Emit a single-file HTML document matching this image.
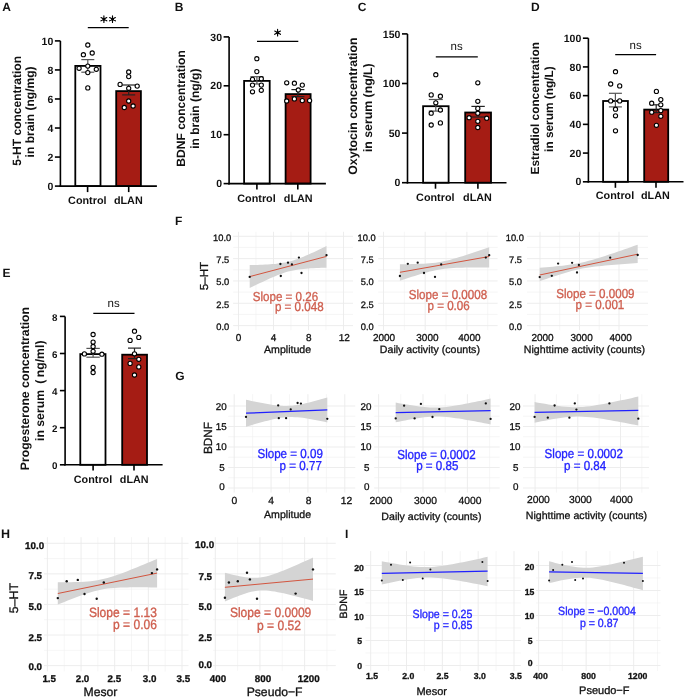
<!DOCTYPE html>
<html><head><meta charset="utf-8"><style>
html,body{margin:0;padding:0;background:#fff;}
body{width:685px;height:698px;overflow:hidden;font-family:"Liberation Sans",sans-serif;}
svg{display:block;will-change:transform;}
</style></head><body>
<svg width="685" height="698" viewBox="0 0 685 698" font-family="Liberation Sans, sans-serif" text-rendering="geometricPrecision">
<rect width="685" height="698" fill="#fff"/>
<line x1="60.4" y1="40.9" x2="60.4" y2="186.9" stroke="#000" stroke-width="1.6"/>
<line x1="54.9" y1="186.1" x2="60.4" y2="186.1" stroke="#000" stroke-width="1.6"/>
<text x="53.3" y="189.78" font-size="10.5" font-weight="bold" text-anchor="end" fill="#111">0</text>
<line x1="54.9" y1="157.06" x2="60.4" y2="157.06" stroke="#000" stroke-width="1.6"/>
<text x="53.3" y="160.74" font-size="10.5" font-weight="bold" text-anchor="end" fill="#111">2</text>
<line x1="54.9" y1="128.02" x2="60.4" y2="128.02" stroke="#000" stroke-width="1.6"/>
<text x="53.3" y="131.69" font-size="10.5" font-weight="bold" text-anchor="end" fill="#111">4</text>
<line x1="54.9" y1="98.98" x2="60.4" y2="98.98" stroke="#000" stroke-width="1.6"/>
<text x="53.3" y="102.65" font-size="10.5" font-weight="bold" text-anchor="end" fill="#111">6</text>
<line x1="54.9" y1="69.94" x2="60.4" y2="69.94" stroke="#000" stroke-width="1.6"/>
<text x="53.3" y="73.61" font-size="10.5" font-weight="bold" text-anchor="end" fill="#111">8</text>
<line x1="54.9" y1="40.9" x2="60.4" y2="40.9" stroke="#000" stroke-width="1.6"/>
<text x="53.3" y="44.58" font-size="10.5" font-weight="bold" text-anchor="end" fill="#111">10</text>
<rect x="75.3" y="65.9" width="25.2" height="120.2" fill="#fff" stroke="#000" stroke-width="1.8"/>
<rect x="116.2" y="91.1" width="24.7" height="95" fill="#a51c14" stroke="#000" stroke-width="1.8"/>
<line x1="59.6" y1="186.1" x2="156.9" y2="186.1" stroke="#000" stroke-width="1.6"/>
<line x1="87.6" y1="186.1" x2="87.6" y2="192.1" stroke="#000" stroke-width="1.6"/>
<line x1="128.7" y1="186.1" x2="128.7" y2="192.1" stroke="#000" stroke-width="1.6"/>
<line x1="87.8" y1="59.6" x2="87.8" y2="72.2" stroke="#555" stroke-width="1.2"/>
<line x1="81.3" y1="59.6" x2="94.3" y2="59.6" stroke="#555" stroke-width="1.2"/>
<line x1="81.3" y1="72.2" x2="94.3" y2="72.2" stroke="#555" stroke-width="1.2"/>
<line x1="128.7" y1="85" x2="128.7" y2="94.9" stroke="#222" stroke-width="1.2"/>
<line x1="122.2" y1="85" x2="135.2" y2="85" stroke="#222" stroke-width="1.2"/>
<line x1="122.2" y1="94.9" x2="135.2" y2="94.9" stroke="#222" stroke-width="1.2"/>
<circle cx="87.8" cy="45" r="2.1" fill="#fff" stroke="#000" stroke-width="1.1"/>
<circle cx="83.4" cy="54.7" r="2.1" fill="#fff" stroke="#000" stroke-width="1.1"/>
<circle cx="92.2" cy="53" r="2.1" fill="#fff" stroke="#000" stroke-width="1.1"/>
<circle cx="87.8" cy="66.1" r="2.1" fill="#fff" stroke="#000" stroke-width="1.1"/>
<circle cx="79.1" cy="68.3" r="2.1" fill="#fff" stroke="#000" stroke-width="1.1"/>
<circle cx="96.3" cy="69.3" r="2.1" fill="#fff" stroke="#000" stroke-width="1.1"/>
<circle cx="87.8" cy="72.6" r="2.1" fill="#fff" stroke="#000" stroke-width="1.1"/>
<circle cx="87.8" cy="87.9" r="2.1" fill="#fff" stroke="#000" stroke-width="1.1"/>
<circle cx="128.7" cy="72" r="2.1" fill="#fff" stroke="#000" stroke-width="1.1"/>
<circle cx="128.7" cy="76.6" r="2.1" fill="#fff" stroke="#000" stroke-width="1.1"/>
<circle cx="120.1" cy="84.4" r="2.1" fill="#fff" stroke="#000" stroke-width="1.1"/>
<circle cx="137.2" cy="86.1" r="2.1" fill="#fff" stroke="#000" stroke-width="1.1"/>
<circle cx="128.7" cy="88.3" r="2.1" fill="#fff" stroke="#000" stroke-width="1.1"/>
<circle cx="128.7" cy="101" r="2.1" fill="#fff" stroke="#000" stroke-width="1.1"/>
<circle cx="124.3" cy="107.5" r="2.1" fill="#fff" stroke="#000" stroke-width="1.1"/>
<circle cx="133.1" cy="106" r="2.1" fill="#fff" stroke="#000" stroke-width="1.1"/>
<line x1="87.8" y1="27.7" x2="128.7" y2="27.7" stroke="#000" stroke-width="1.3"/>
<path d="M103.9 15.9L103.9 22.5M101.04 17.55L106.76 20.85M106.76 17.55L101.04 20.85" stroke="#000" stroke-width="1.15" stroke-linecap="round" fill="none"/>
<circle cx="103.9" cy="19.2" r="1.5" fill="#000"/>
<path d="M112.5 15.9L112.5 22.5M109.64 17.55L115.36 20.85M115.36 17.55L109.64 20.85" stroke="#000" stroke-width="1.15" stroke-linecap="round" fill="none"/>
<circle cx="112.5" cy="19.2" r="1.5" fill="#000"/>
<text x="87.3" y="204" font-size="10.8" font-weight="bold" text-anchor="middle" fill="#111">Control</text>
<text x="128.3" y="204" font-size="10.8" font-weight="bold" text-anchor="middle" fill="#111">dLAN</text>
<text x="20.7" y="110.8" font-size="12.05" font-weight="bold" text-anchor="middle" fill="#111" transform="rotate(-90 20.7 110.8)">5-HT concentration</text>
<text x="34.4" y="111.9" font-size="12.05" font-weight="bold" text-anchor="middle" fill="#111" transform="rotate(-90 34.4 111.9)">in brain (ng/mg)</text>
<text x="2.3" y="11.1" font-size="12" font-weight="bold" text-anchor="start" fill="#111">A</text>
<line x1="229.1" y1="36.9" x2="229.1" y2="184.4" stroke="#000" stroke-width="1.6"/>
<line x1="223.6" y1="183.6" x2="229.1" y2="183.6" stroke="#000" stroke-width="1.6"/>
<text x="222" y="187.28" font-size="10.5" font-weight="bold" text-anchor="end" fill="#111">0</text>
<line x1="223.6" y1="134.7" x2="229.1" y2="134.7" stroke="#000" stroke-width="1.6"/>
<text x="222" y="138.38" font-size="10.5" font-weight="bold" text-anchor="end" fill="#111">10</text>
<line x1="223.6" y1="85.8" x2="229.1" y2="85.8" stroke="#000" stroke-width="1.6"/>
<text x="222" y="89.47" font-size="10.5" font-weight="bold" text-anchor="end" fill="#111">20</text>
<line x1="223.6" y1="36.9" x2="229.1" y2="36.9" stroke="#000" stroke-width="1.6"/>
<text x="222" y="40.58" font-size="10.5" font-weight="bold" text-anchor="end" fill="#111">30</text>
<rect x="244.1" y="80.9" width="25.6" height="102.7" fill="#fff" stroke="#000" stroke-width="1.8"/>
<rect x="285.6" y="94.1" width="25" height="89.5" fill="#a51c14" stroke="#000" stroke-width="1.8"/>
<line x1="228.3" y1="183.6" x2="325.9" y2="183.6" stroke="#000" stroke-width="1.6"/>
<line x1="256.9" y1="183.6" x2="256.9" y2="189.6" stroke="#000" stroke-width="1.6"/>
<line x1="297.8" y1="183.6" x2="297.8" y2="189.6" stroke="#000" stroke-width="1.6"/>
<line x1="256.9" y1="76.7" x2="256.9" y2="84" stroke="#555" stroke-width="1.2"/>
<line x1="250.4" y1="76.7" x2="263.4" y2="76.7" stroke="#555" stroke-width="1.2"/>
<line x1="250.4" y1="84" x2="263.4" y2="84" stroke="#555" stroke-width="1.2"/>
<line x1="297.9" y1="89.6" x2="297.9" y2="96.6" stroke="#222" stroke-width="1.2"/>
<line x1="291.4" y1="89.6" x2="304.4" y2="89.6" stroke="#222" stroke-width="1.2"/>
<line x1="291.4" y1="96.6" x2="304.4" y2="96.6" stroke="#222" stroke-width="1.2"/>
<circle cx="256.8" cy="58.7" r="2.1" fill="#fff" stroke="#000" stroke-width="1.1"/>
<circle cx="256.8" cy="71.6" r="2.1" fill="#fff" stroke="#000" stroke-width="1.1"/>
<circle cx="252.5" cy="79.3" r="2.1" fill="#fff" stroke="#000" stroke-width="1.1"/>
<circle cx="261.3" cy="78.7" r="2.1" fill="#fff" stroke="#000" stroke-width="1.1"/>
<circle cx="252.5" cy="85.1" r="2.1" fill="#fff" stroke="#000" stroke-width="1.1"/>
<circle cx="261.3" cy="85.1" r="2.1" fill="#fff" stroke="#000" stroke-width="1.1"/>
<circle cx="252.5" cy="91.8" r="2.1" fill="#fff" stroke="#000" stroke-width="1.1"/>
<circle cx="261.3" cy="90.3" r="2.1" fill="#fff" stroke="#000" stroke-width="1.1"/>
<circle cx="286.7" cy="82.8" r="2.1" fill="#fff" stroke="#000" stroke-width="1.1"/>
<circle cx="294.4" cy="83.2" r="2.1" fill="#fff" stroke="#000" stroke-width="1.1"/>
<circle cx="302.3" cy="85.1" r="2.1" fill="#fff" stroke="#000" stroke-width="1.1"/>
<circle cx="298.3" cy="90" r="2.1" fill="#fff" stroke="#000" stroke-width="1.1"/>
<circle cx="286.7" cy="101" r="2.1" fill="#fff" stroke="#000" stroke-width="1.1"/>
<circle cx="294.4" cy="98.9" r="2.1" fill="#fff" stroke="#000" stroke-width="1.1"/>
<circle cx="302.3" cy="100.6" r="2.1" fill="#fff" stroke="#000" stroke-width="1.1"/>
<circle cx="309.6" cy="100.6" r="2.1" fill="#fff" stroke="#000" stroke-width="1.1"/>
<line x1="257" y1="41.3" x2="298.3" y2="41.3" stroke="#000" stroke-width="1.3"/>
<path d="M277.6 29.4L277.6 36M274.74 31.05L280.46 34.35M280.46 31.05L274.74 34.35" stroke="#000" stroke-width="1.15" stroke-linecap="round" fill="none"/>
<circle cx="277.6" cy="32.7" r="1.5" fill="#000"/>
<text x="256.5" y="201.8" font-size="10.8" font-weight="bold" text-anchor="middle" fill="#111">Control</text>
<text x="298.2" y="201.8" font-size="10.8" font-weight="bold" text-anchor="middle" fill="#111">dLAN</text>
<text x="185" y="108.4" font-size="12.05" font-weight="bold" text-anchor="middle" fill="#111" transform="rotate(-90 185 108.4)">BDNF concentration</text>
<text x="198.9" y="108.7" font-size="12.05" font-weight="bold" text-anchor="middle" fill="#111" transform="rotate(-90 198.9 108.7)">in brain (ng/g)</text>
<text x="174.8" y="11.1" font-size="12" font-weight="bold" text-anchor="start" fill="#111">B</text>
<line x1="407.5" y1="33.9" x2="407.5" y2="183.5" stroke="#000" stroke-width="1.6"/>
<line x1="402" y1="182.7" x2="407.5" y2="182.7" stroke="#000" stroke-width="1.6"/>
<text x="400.4" y="186.38" font-size="10.5" font-weight="bold" text-anchor="end" fill="#111">0</text>
<line x1="402" y1="133.1" x2="407.5" y2="133.1" stroke="#000" stroke-width="1.6"/>
<text x="400.4" y="136.78" font-size="10.5" font-weight="bold" text-anchor="end" fill="#111">50</text>
<line x1="402" y1="83.5" x2="407.5" y2="83.5" stroke="#000" stroke-width="1.6"/>
<text x="400.4" y="87.17" font-size="10.5" font-weight="bold" text-anchor="end" fill="#111">100</text>
<line x1="402" y1="33.9" x2="407.5" y2="33.9" stroke="#000" stroke-width="1.6"/>
<text x="400.4" y="37.57" font-size="10.5" font-weight="bold" text-anchor="end" fill="#111">150</text>
<rect x="423.1" y="106.2" width="25.5" height="76.5" fill="#fff" stroke="#000" stroke-width="1.8"/>
<rect x="465.2" y="112.5" width="25.8" height="70.2" fill="#a51c14" stroke="#000" stroke-width="1.8"/>
<line x1="406.7" y1="182.7" x2="506.5" y2="182.7" stroke="#000" stroke-width="1.6"/>
<line x1="435.5" y1="182.7" x2="435.5" y2="188.7" stroke="#000" stroke-width="1.6"/>
<line x1="477.9" y1="182.7" x2="477.9" y2="188.7" stroke="#000" stroke-width="1.6"/>
<line x1="435.8" y1="99.5" x2="435.8" y2="111.1" stroke="#555" stroke-width="1.2"/>
<line x1="428.8" y1="99.5" x2="442.8" y2="99.5" stroke="#555" stroke-width="1.2"/>
<line x1="428.8" y1="111.1" x2="442.8" y2="111.1" stroke="#555" stroke-width="1.2"/>
<line x1="478.1" y1="106.4" x2="478.1" y2="117" stroke="#222" stroke-width="1.2"/>
<line x1="471.4" y1="106.4" x2="484.8" y2="106.4" stroke="#222" stroke-width="1.2"/>
<line x1="471.4" y1="117" x2="484.8" y2="117" stroke="#222" stroke-width="1.2"/>
<circle cx="435.8" cy="74.7" r="2.1" fill="#fff" stroke="#000" stroke-width="1.1"/>
<circle cx="431.2" cy="94.9" r="2.1" fill="#fff" stroke="#000" stroke-width="1.1"/>
<circle cx="440.4" cy="96.2" r="2.1" fill="#fff" stroke="#000" stroke-width="1.1"/>
<circle cx="435.8" cy="102.8" r="2.1" fill="#fff" stroke="#000" stroke-width="1.1"/>
<circle cx="440.4" cy="110" r="2.1" fill="#fff" stroke="#000" stroke-width="1.1"/>
<circle cx="431.2" cy="113.2" r="2.1" fill="#fff" stroke="#000" stroke-width="1.1"/>
<circle cx="440.4" cy="122.9" r="2.1" fill="#fff" stroke="#000" stroke-width="1.1"/>
<circle cx="431.2" cy="125" r="2.1" fill="#fff" stroke="#000" stroke-width="1.1"/>
<circle cx="477.8" cy="82.8" r="2.1" fill="#fff" stroke="#000" stroke-width="1.1"/>
<circle cx="477.8" cy="101.3" r="2.1" fill="#fff" stroke="#000" stroke-width="1.1"/>
<circle cx="477.8" cy="108.4" r="2.1" fill="#fff" stroke="#000" stroke-width="1.1"/>
<circle cx="477.8" cy="113.2" r="2.1" fill="#fff" stroke="#000" stroke-width="1.1"/>
<circle cx="469.1" cy="117.7" r="2.1" fill="#fff" stroke="#000" stroke-width="1.1"/>
<circle cx="486.7" cy="118.2" r="2.1" fill="#fff" stroke="#000" stroke-width="1.1"/>
<circle cx="477.8" cy="121.3" r="2.1" fill="#fff" stroke="#000" stroke-width="1.1"/>
<circle cx="477.8" cy="127.5" r="2.1" fill="#fff" stroke="#000" stroke-width="1.1"/>
<line x1="435.8" y1="56.8" x2="477.8" y2="56.8" stroke="#000" stroke-width="1.3"/>
<text x="456.6" y="50.2" font-size="11.5" font-weight="normal" text-anchor="middle" fill="#111">ns</text>
<text x="435.3" y="200.7" font-size="10.8" font-weight="bold" text-anchor="middle" fill="#111">Control</text>
<text x="477.5" y="200.7" font-size="10.8" font-weight="bold" text-anchor="middle" fill="#111">dLAN</text>
<text x="357.3" y="106.1" font-size="12.3" font-weight="bold" text-anchor="middle" fill="#111" transform="rotate(-90 357.3 106.1)">Oxytocin concentration</text>
<text x="371.7" y="107.7" font-size="12.3" font-weight="bold" text-anchor="middle" fill="#111" transform="rotate(-90 371.7 107.7)">in serum (ng/L)</text>
<text x="357.7" y="11.1" font-size="12" font-weight="bold" text-anchor="start" fill="#111">C</text>
<line x1="588.4" y1="38.2" x2="588.4" y2="182.6" stroke="#000" stroke-width="1.6"/>
<line x1="582.9" y1="181.8" x2="588.4" y2="181.8" stroke="#000" stroke-width="1.6"/>
<text x="581.3" y="185.48" font-size="10.5" font-weight="bold" text-anchor="end" fill="#111">0</text>
<line x1="582.9" y1="153.08" x2="588.4" y2="153.08" stroke="#000" stroke-width="1.6"/>
<text x="581.3" y="156.76" font-size="10.5" font-weight="bold" text-anchor="end" fill="#111">20</text>
<line x1="582.9" y1="124.36" x2="588.4" y2="124.36" stroke="#000" stroke-width="1.6"/>
<text x="581.3" y="128.04" font-size="10.5" font-weight="bold" text-anchor="end" fill="#111">40</text>
<line x1="582.9" y1="95.64" x2="588.4" y2="95.64" stroke="#000" stroke-width="1.6"/>
<text x="581.3" y="99.32" font-size="10.5" font-weight="bold" text-anchor="end" fill="#111">60</text>
<line x1="582.9" y1="66.92" x2="588.4" y2="66.92" stroke="#000" stroke-width="1.6"/>
<text x="581.3" y="70.6" font-size="10.5" font-weight="bold" text-anchor="end" fill="#111">80</text>
<line x1="582.9" y1="38.2" x2="588.4" y2="38.2" stroke="#000" stroke-width="1.6"/>
<text x="581.3" y="41.88" font-size="10.5" font-weight="bold" text-anchor="end" fill="#111">100</text>
<rect x="603.1" y="101" width="24.8" height="80.8" fill="#fff" stroke="#000" stroke-width="1.8"/>
<rect x="644.2" y="109.6" width="24" height="72.2" fill="#a51c14" stroke="#000" stroke-width="1.8"/>
<line x1="587.6" y1="181.8" x2="683.5" y2="181.8" stroke="#000" stroke-width="1.6"/>
<line x1="615.4" y1="181.8" x2="615.4" y2="187.8" stroke="#000" stroke-width="1.6"/>
<line x1="656" y1="181.8" x2="656" y2="187.8" stroke="#000" stroke-width="1.6"/>
<line x1="615.4" y1="93.3" x2="615.4" y2="106.9" stroke="#555" stroke-width="1.2"/>
<line x1="608.9" y1="93.3" x2="621.9" y2="93.3" stroke="#555" stroke-width="1.2"/>
<line x1="608.9" y1="106.9" x2="621.9" y2="106.9" stroke="#555" stroke-width="1.2"/>
<line x1="656.2" y1="104.8" x2="656.2" y2="112.6" stroke="#222" stroke-width="1.2"/>
<line x1="649.7" y1="104.8" x2="662.7" y2="104.8" stroke="#222" stroke-width="1.2"/>
<line x1="649.7" y1="112.6" x2="662.7" y2="112.6" stroke="#222" stroke-width="1.2"/>
<circle cx="615.5" cy="71.7" r="2.1" fill="#fff" stroke="#000" stroke-width="1.1"/>
<circle cx="610.7" cy="84" r="2.1" fill="#fff" stroke="#000" stroke-width="1.1"/>
<circle cx="619.7" cy="85.9" r="2.1" fill="#fff" stroke="#000" stroke-width="1.1"/>
<circle cx="610.7" cy="100.9" r="2.1" fill="#fff" stroke="#000" stroke-width="1.1"/>
<circle cx="619.7" cy="100.9" r="2.1" fill="#fff" stroke="#000" stroke-width="1.1"/>
<circle cx="615.5" cy="109.2" r="2.1" fill="#fff" stroke="#000" stroke-width="1.1"/>
<circle cx="615.5" cy="115.8" r="2.1" fill="#fff" stroke="#000" stroke-width="1.1"/>
<circle cx="615.5" cy="130.8" r="2.1" fill="#fff" stroke="#000" stroke-width="1.1"/>
<circle cx="656.4" cy="91.4" r="2.1" fill="#fff" stroke="#000" stroke-width="1.1"/>
<circle cx="660.8" cy="99.6" r="2.1" fill="#fff" stroke="#000" stroke-width="1.1"/>
<circle cx="651.7" cy="103.2" r="2.1" fill="#fff" stroke="#000" stroke-width="1.1"/>
<circle cx="660.8" cy="104.8" r="2.1" fill="#fff" stroke="#000" stroke-width="1.1"/>
<circle cx="660.8" cy="110.6" r="2.1" fill="#fff" stroke="#000" stroke-width="1.1"/>
<circle cx="651.7" cy="112.2" r="2.1" fill="#fff" stroke="#000" stroke-width="1.1"/>
<circle cx="660.8" cy="116.3" r="2.1" fill="#fff" stroke="#000" stroke-width="1.1"/>
<circle cx="656.4" cy="125.3" r="2.1" fill="#fff" stroke="#000" stroke-width="1.1"/>
<line x1="615.2" y1="54.7" x2="656.1" y2="54.7" stroke="#000" stroke-width="1.3"/>
<text x="635.6" y="48.6" font-size="11.5" font-weight="normal" text-anchor="middle" fill="#111">ns</text>
<text x="615" y="198.9" font-size="10.8" font-weight="bold" text-anchor="middle" fill="#111">Control</text>
<text x="655.4" y="198.9" font-size="10.8" font-weight="bold" text-anchor="middle" fill="#111">dLAN</text>
<text x="538.7" y="108.25" font-size="11.85" font-weight="bold" text-anchor="middle" fill="#111" transform="rotate(-90 538.7 108.25)">Estradiol concentration</text>
<text x="552.7" y="109.1" font-size="11.85" font-weight="bold" text-anchor="middle" fill="#111" transform="rotate(-90 552.7 109.1)">in serum (ng/L)</text>
<text x="530.9" y="11.1" font-size="12" font-weight="bold" text-anchor="start" fill="#111">D</text>
<line x1="65.1" y1="316.4" x2="65.1" y2="465.6" stroke="#000" stroke-width="1.6"/>
<line x1="59.9" y1="464.8" x2="65.1" y2="464.8" stroke="#000" stroke-width="1.6"/>
<text x="57.4" y="469.03" font-size="9.8" font-weight="bold" text-anchor="end" fill="#111">0</text>
<line x1="59.9" y1="427.7" x2="65.1" y2="427.7" stroke="#000" stroke-width="1.6"/>
<text x="57.4" y="431.93" font-size="9.8" font-weight="bold" text-anchor="end" fill="#111">2</text>
<line x1="59.9" y1="390.6" x2="65.1" y2="390.6" stroke="#000" stroke-width="1.6"/>
<text x="57.4" y="394.83" font-size="9.8" font-weight="bold" text-anchor="end" fill="#111">4</text>
<line x1="59.9" y1="353.5" x2="65.1" y2="353.5" stroke="#000" stroke-width="1.6"/>
<text x="57.4" y="357.73" font-size="9.8" font-weight="bold" text-anchor="end" fill="#111">6</text>
<line x1="59.9" y1="316.4" x2="65.1" y2="316.4" stroke="#000" stroke-width="1.6"/>
<text x="57.4" y="320.63" font-size="9.8" font-weight="bold" text-anchor="end" fill="#111">8</text>
<rect x="80.3" y="354.1" width="25.2" height="110.7" fill="#fff" stroke="#000" stroke-width="1.8"/>
<rect x="122.2" y="354.7" width="24.8" height="110.1" fill="#a51c14" stroke="#000" stroke-width="1.8"/>
<line x1="64.3" y1="464.8" x2="162.6" y2="464.8" stroke="#000" stroke-width="1.6"/>
<line x1="93.1" y1="464.8" x2="93.1" y2="470.5" stroke="#000" stroke-width="1.6"/>
<line x1="134" y1="464.8" x2="134" y2="470.5" stroke="#000" stroke-width="1.6"/>
<line x1="93.1" y1="348.4" x2="93.1" y2="357.2" stroke="#555" stroke-width="1.2"/>
<line x1="86.4" y1="348.4" x2="99.8" y2="348.4" stroke="#555" stroke-width="1.2"/>
<line x1="86.4" y1="357.2" x2="99.8" y2="357.2" stroke="#555" stroke-width="1.2"/>
<line x1="134.5" y1="348.1" x2="134.5" y2="358.6" stroke="#222" stroke-width="1.2"/>
<line x1="128" y1="348.1" x2="141" y2="348.1" stroke="#222" stroke-width="1.2"/>
<line x1="128" y1="358.6" x2="141" y2="358.6" stroke="#222" stroke-width="1.2"/>
<circle cx="93.1" cy="334.5" r="2.1" fill="#fff" stroke="#000" stroke-width="1.1"/>
<circle cx="93.1" cy="342.1" r="2.1" fill="#fff" stroke="#000" stroke-width="1.1"/>
<circle cx="93.1" cy="346.5" r="2.1" fill="#fff" stroke="#000" stroke-width="1.1"/>
<circle cx="93.1" cy="351.3" r="2.1" fill="#fff" stroke="#000" stroke-width="1.1"/>
<circle cx="84.4" cy="353.9" r="2.1" fill="#fff" stroke="#000" stroke-width="1.1"/>
<circle cx="101.9" cy="354.2" r="2.1" fill="#fff" stroke="#000" stroke-width="1.1"/>
<circle cx="93.1" cy="367.4" r="2.1" fill="#fff" stroke="#000" stroke-width="1.1"/>
<circle cx="93.1" cy="372.5" r="2.1" fill="#fff" stroke="#000" stroke-width="1.1"/>
<circle cx="134.5" cy="331.2" r="2.1" fill="#fff" stroke="#000" stroke-width="1.1"/>
<circle cx="138.8" cy="337.4" r="2.1" fill="#fff" stroke="#000" stroke-width="1.1"/>
<circle cx="130.1" cy="340.4" r="2.1" fill="#fff" stroke="#000" stroke-width="1.1"/>
<circle cx="134.5" cy="353.8" r="2.1" fill="#fff" stroke="#000" stroke-width="1.1"/>
<circle cx="138.8" cy="359.3" r="2.1" fill="#fff" stroke="#000" stroke-width="1.1"/>
<circle cx="130.1" cy="363.4" r="2.1" fill="#fff" stroke="#000" stroke-width="1.1"/>
<circle cx="138.8" cy="366.9" r="2.1" fill="#fff" stroke="#000" stroke-width="1.1"/>
<circle cx="134.5" cy="375" r="2.1" fill="#fff" stroke="#000" stroke-width="1.1"/>
<line x1="93.3" y1="313.4" x2="134.5" y2="313.4" stroke="#000" stroke-width="1.3"/>
<text x="113.7" y="306.9" font-size="11.5" font-weight="normal" text-anchor="middle" fill="#111">ns</text>
<text x="93" y="483" font-size="10.8" font-weight="bold" text-anchor="middle" fill="#111">Control</text>
<text x="134.2" y="483" font-size="10.8" font-weight="bold" text-anchor="middle" fill="#111">dLAN</text>
<text x="29" y="388.6" font-size="12.25" font-weight="bold" text-anchor="middle" fill="#111" transform="rotate(-90 29 388.6)">Progesterone concentration</text>
<text x="43.5" y="390.75" font-size="12.25" font-weight="bold" text-anchor="middle" fill="#111" transform="rotate(-90 43.5 390.75)">in serum ( ng/ml)</text>
<text x="2.6" y="276.7" font-size="12" font-weight="bold" text-anchor="start" fill="#111">E</text>
<line x1="256" y1="231.8" x2="256" y2="330.1" stroke="#f0f0f0" stroke-width="0.6"/>
<line x1="291" y1="231.8" x2="291" y2="330.1" stroke="#f0f0f0" stroke-width="0.6"/>
<line x1="326" y1="231.8" x2="326" y2="330.1" stroke="#f0f0f0" stroke-width="0.6"/>
<line x1="233.1" y1="314.44" x2="353" y2="314.44" stroke="#f0f0f0" stroke-width="0.6"/>
<line x1="233.1" y1="292.11" x2="353" y2="292.11" stroke="#f0f0f0" stroke-width="0.6"/>
<line x1="233.1" y1="269.79" x2="353" y2="269.79" stroke="#f0f0f0" stroke-width="0.6"/>
<line x1="233.1" y1="247.46" x2="353" y2="247.46" stroke="#f0f0f0" stroke-width="0.6"/>
<line x1="238.5" y1="231.8" x2="238.5" y2="330.1" stroke="#ebebeb" stroke-width="0.9"/>
<line x1="273.5" y1="231.8" x2="273.5" y2="330.1" stroke="#ebebeb" stroke-width="0.9"/>
<line x1="308.5" y1="231.8" x2="308.5" y2="330.1" stroke="#ebebeb" stroke-width="0.9"/>
<line x1="343.5" y1="231.8" x2="343.5" y2="330.1" stroke="#ebebeb" stroke-width="0.9"/>
<line x1="233.1" y1="325.6" x2="353" y2="325.6" stroke="#ebebeb" stroke-width="0.9"/>
<line x1="233.1" y1="303.28" x2="353" y2="303.28" stroke="#ebebeb" stroke-width="0.9"/>
<line x1="233.1" y1="280.95" x2="353" y2="280.95" stroke="#ebebeb" stroke-width="0.9"/>
<line x1="233.1" y1="258.62" x2="353" y2="258.62" stroke="#ebebeb" stroke-width="0.9"/>
<line x1="233.1" y1="236.3" x2="353" y2="236.3" stroke="#ebebeb" stroke-width="0.9"/>
<polygon points="249.7,265.1 252.26,265.04 254.82,264.98 257.38,264.91 259.94,264.82 262.5,264.72 265.06,264.61 267.62,264.47 270.18,264.31 272.74,264.11 275.3,263.88 277.86,263.61 280.42,263.27 282.98,262.87 285.54,262.39 288.1,261.83 290.66,261.17 293.22,260.43 295.78,259.6 298.34,258.69 300.9,257.71 303.46,256.67 306.02,255.59 308.58,254.47 311.14,253.32 313.7,252.14 316.26,250.94 318.82,249.73 321.38,248.49 323.94,247.25 326.5,246 326.5,267.7 323.94,267.76 321.38,267.84 318.82,267.92 316.26,268.03 313.7,268.14 311.14,268.28 308.58,268.45 306.02,268.64 303.46,268.88 300.9,269.16 298.34,269.5 295.78,269.9 293.22,270.39 290.66,270.96 288.1,271.62 285.54,272.37 282.98,273.21 280.42,274.13 277.86,275.11 275.3,276.15 272.74,277.24 270.18,278.36 267.62,279.51 265.06,280.69 262.5,281.89 259.94,283.11 257.38,284.34 254.82,285.59 252.26,286.84 249.7,288.1" fill="#d4d4d4" fill-opacity="1"/>
<line x1="249.7" y1="276.6" x2="326.5" y2="256.4" stroke="#d2553f" stroke-width="1"/>
<circle cx="249.7" cy="276.9" r="1.15" fill="#111"/>
<circle cx="280.4" cy="264" r="1.15" fill="#111"/>
<circle cx="288" cy="262.7" r="1.15" fill="#111"/>
<circle cx="291.9" cy="264.4" r="1.15" fill="#111"/>
<circle cx="298.9" cy="257.6" r="1.15" fill="#111"/>
<circle cx="280.8" cy="276" r="1.15" fill="#111"/>
<circle cx="301.5" cy="273" r="1.15" fill="#111"/>
<circle cx="326.5" cy="255.2" r="1.15" fill="#111"/>
<text x="231.2" y="240.85" font-size="9.3" font-weight="normal" text-anchor="end" fill="#111" stroke="#111" stroke-width="0.3">10.0</text>
<text x="229.29" y="263.15" font-size="9.3" font-weight="normal" text-anchor="end" fill="#111" stroke="#111" stroke-width="0.3">7.5</text>
<text x="229.29" y="285.45" font-size="9.3" font-weight="normal" text-anchor="end" fill="#111" stroke="#111" stroke-width="0.3">5.0</text>
<text x="229.29" y="307.75" font-size="9.3" font-weight="normal" text-anchor="end" fill="#111" stroke="#111" stroke-width="0.3">2.5</text>
<text x="229.29" y="330.06" font-size="9.3" font-weight="normal" text-anchor="end" fill="#111" stroke="#111" stroke-width="0.3">0.0</text>
<text x="238.5" y="340.5" font-size="10" font-weight="normal" text-anchor="middle" fill="#111" stroke="#111" stroke-width="0.3">0</text>
<text x="273.5" y="340.5" font-size="10" font-weight="normal" text-anchor="middle" fill="#111" stroke="#111" stroke-width="0.3">4</text>
<text x="308.7" y="340.5" font-size="10" font-weight="normal" text-anchor="middle" fill="#111" stroke="#111" stroke-width="0.3">8</text>
<text x="344.3" y="340.5" font-size="10" font-weight="normal" text-anchor="middle" fill="#111" stroke="#111" stroke-width="0.3">12</text>
<text x="287.6" y="352.51" font-size="10.6" font-weight="normal" text-anchor="middle" fill="#111" stroke="#111" stroke-width="0.3">Amplitude</text>
<text x="208.06" y="276" font-size="11.6" font-weight="normal" text-anchor="middle" fill="#111" transform="rotate(-90 208.06 276)" stroke="#111" stroke-width="0.3">5–HT</text>
<text x="0" y="0" font-size="11.6" font-weight="normal" text-anchor="start" fill="#cf5f4f" transform="translate(252.7 300.5) scale(1 1.12)" stroke="#cf5f4f" stroke-width="0.3">Slope = 0.26</text>
<text x="0" y="0" font-size="11.6" font-weight="normal" text-anchor="start" fill="#cf5f4f" transform="translate(274.9 311.1) scale(1 1.12)" stroke="#cf5f4f" stroke-width="0.3">p = 0.048</text>
<line x1="404.35" y1="231.8" x2="404.35" y2="330.1" stroke="#f0f0f0" stroke-width="0.6"/>
<line x1="446.05" y1="231.8" x2="446.05" y2="330.1" stroke="#f0f0f0" stroke-width="0.6"/>
<line x1="487.75" y1="231.8" x2="487.75" y2="330.1" stroke="#f0f0f0" stroke-width="0.6"/>
<line x1="378.2" y1="314.44" x2="497.6" y2="314.44" stroke="#f0f0f0" stroke-width="0.6"/>
<line x1="378.2" y1="292.11" x2="497.6" y2="292.11" stroke="#f0f0f0" stroke-width="0.6"/>
<line x1="378.2" y1="269.79" x2="497.6" y2="269.79" stroke="#f0f0f0" stroke-width="0.6"/>
<line x1="378.2" y1="247.46" x2="497.6" y2="247.46" stroke="#f0f0f0" stroke-width="0.6"/>
<line x1="383.5" y1="231.8" x2="383.5" y2="330.1" stroke="#ebebeb" stroke-width="0.9"/>
<line x1="425.2" y1="231.8" x2="425.2" y2="330.1" stroke="#ebebeb" stroke-width="0.9"/>
<line x1="466.9" y1="231.8" x2="466.9" y2="330.1" stroke="#ebebeb" stroke-width="0.9"/>
<line x1="378.2" y1="325.6" x2="497.6" y2="325.6" stroke="#ebebeb" stroke-width="0.9"/>
<line x1="378.2" y1="303.28" x2="497.6" y2="303.28" stroke="#ebebeb" stroke-width="0.9"/>
<line x1="378.2" y1="280.95" x2="497.6" y2="280.95" stroke="#ebebeb" stroke-width="0.9"/>
<line x1="378.2" y1="258.62" x2="497.6" y2="258.62" stroke="#ebebeb" stroke-width="0.9"/>
<line x1="378.2" y1="236.3" x2="497.6" y2="236.3" stroke="#ebebeb" stroke-width="0.9"/>
<polygon points="399.9,264.2 402.88,264.19 405.85,264.18 408.83,264.15 411.81,264.11 414.78,264.05 417.76,263.97 420.74,263.86 423.71,263.72 426.69,263.54 429.67,263.31 432.64,263.02 435.62,262.66 438.6,262.22 441.57,261.69 444.55,261.09 447.53,260.4 450.5,259.66 453.48,258.85 456.46,258 459.43,257.12 462.41,256.2 465.39,255.26 468.36,254.3 471.34,253.33 474.32,252.35 477.29,251.35 480.27,250.35 483.25,249.34 486.22,248.32 489.2,247.3 489.2,267.5 486.22,267.49 483.25,267.48 480.27,267.47 477.29,267.48 474.32,267.49 471.34,267.51 468.36,267.54 465.39,267.59 462.41,267.66 459.43,267.75 456.46,267.87 453.48,268.03 450.5,268.23 447.53,268.49 444.55,268.81 441.57,269.21 438.6,269.69 435.62,270.26 432.64,270.9 429.67,271.62 426.69,272.4 423.71,273.22 420.74,274.09 417.76,274.99 414.78,275.92 411.81,276.87 408.83,277.83 405.85,278.81 402.88,279.8 399.9,280.8" fill="#d4d4d4" fill-opacity="1"/>
<line x1="399.9" y1="272.3" x2="489.2" y2="256.5" stroke="#d2553f" stroke-width="1"/>
<circle cx="399.9" cy="276" r="1.15" fill="#111"/>
<circle cx="407.8" cy="263.8" r="1.15" fill="#111"/>
<circle cx="417.7" cy="262.7" r="1.15" fill="#111"/>
<circle cx="424" cy="273" r="1.15" fill="#111"/>
<circle cx="435" cy="276.9" r="1.15" fill="#111"/>
<circle cx="441.2" cy="264.4" r="1.15" fill="#111"/>
<circle cx="485.8" cy="257.6" r="1.15" fill="#111"/>
<circle cx="489.2" cy="255.2" r="1.15" fill="#111"/>
<text x="375.7" y="240.85" font-size="9.3" font-weight="normal" text-anchor="end" fill="#111" stroke="#111" stroke-width="0.3">10.0</text>
<text x="373.79" y="263.15" font-size="9.3" font-weight="normal" text-anchor="end" fill="#111" stroke="#111" stroke-width="0.3">7.5</text>
<text x="373.79" y="285.45" font-size="9.3" font-weight="normal" text-anchor="end" fill="#111" stroke="#111" stroke-width="0.3">5.0</text>
<text x="373.79" y="307.75" font-size="9.3" font-weight="normal" text-anchor="end" fill="#111" stroke="#111" stroke-width="0.3">2.5</text>
<text x="373.79" y="330.06" font-size="9.3" font-weight="normal" text-anchor="end" fill="#111" stroke="#111" stroke-width="0.3">0.0</text>
<text x="384" y="340.5" font-size="10" font-weight="normal" text-anchor="middle" fill="#111" stroke="#111" stroke-width="0.3">2000</text>
<text x="427.4" y="340.5" font-size="10" font-weight="normal" text-anchor="middle" fill="#111" stroke="#111" stroke-width="0.3">3000</text>
<text x="469.4" y="340.5" font-size="10" font-weight="normal" text-anchor="middle" fill="#111" stroke="#111" stroke-width="0.3">4000</text>
<text x="429.9" y="353.31" font-size="10.6" font-weight="normal" text-anchor="middle" fill="#111" stroke="#111" stroke-width="0.3">Daily activity (counts)</text>
<text x="0" y="0" font-size="11.6" font-weight="normal" text-anchor="start" fill="#cf5f4f" transform="translate(408.8 298.6) scale(1 1.12)" stroke="#cf5f4f" stroke-width="0.3">Slope = 0.0008</text>
<text x="0" y="0" font-size="11.6" font-weight="normal" text-anchor="start" fill="#cf5f4f" transform="translate(427.5 309.6) scale(1 1.12)" stroke="#cf5f4f" stroke-width="0.3">p = 0.06</text>
<line x1="559.75" y1="231.8" x2="559.75" y2="330.1" stroke="#f0f0f0" stroke-width="0.6"/>
<line x1="599.25" y1="231.8" x2="599.25" y2="330.1" stroke="#f0f0f0" stroke-width="0.6"/>
<line x1="527" y1="314.44" x2="648" y2="314.44" stroke="#f0f0f0" stroke-width="0.6"/>
<line x1="527" y1="292.11" x2="648" y2="292.11" stroke="#f0f0f0" stroke-width="0.6"/>
<line x1="527" y1="269.79" x2="648" y2="269.79" stroke="#f0f0f0" stroke-width="0.6"/>
<line x1="527" y1="247.46" x2="648" y2="247.46" stroke="#f0f0f0" stroke-width="0.6"/>
<line x1="540" y1="231.8" x2="540" y2="330.1" stroke="#ebebeb" stroke-width="0.9"/>
<line x1="579.5" y1="231.8" x2="579.5" y2="330.1" stroke="#ebebeb" stroke-width="0.9"/>
<line x1="619" y1="231.8" x2="619" y2="330.1" stroke="#ebebeb" stroke-width="0.9"/>
<line x1="527" y1="325.6" x2="648" y2="325.6" stroke="#ebebeb" stroke-width="0.9"/>
<line x1="527" y1="303.28" x2="648" y2="303.28" stroke="#ebebeb" stroke-width="0.9"/>
<line x1="527" y1="280.95" x2="648" y2="280.95" stroke="#ebebeb" stroke-width="0.9"/>
<line x1="527" y1="258.62" x2="648" y2="258.62" stroke="#ebebeb" stroke-width="0.9"/>
<line x1="527" y1="236.3" x2="648" y2="236.3" stroke="#ebebeb" stroke-width="0.9"/>
<polygon points="539.7,267.7 542.97,267.45 546.23,267.19 549.5,266.92 552.77,266.63 556.03,266.33 559.3,266.01 562.57,265.66 565.83,265.27 569.1,264.85 572.37,264.36 575.63,263.81 578.9,263.19 582.17,262.49 585.43,261.71 588.7,260.86 591.97,259.95 595.23,258.99 598.5,257.99 601.77,256.96 605.03,255.9 608.3,254.82 611.57,253.73 614.83,252.63 618.1,251.51 621.37,250.39 624.63,249.26 627.9,248.13 631.17,246.99 634.43,245.85 637.7,244.7 637.7,263.1 634.43,263.32 631.17,263.55 627.9,263.78 624.63,264.02 621.37,264.26 618.1,264.51 614.83,264.76 611.57,265.03 608.3,265.31 605.03,265.6 601.77,265.91 598.5,266.25 595.23,266.62 591.97,267.03 588.7,267.49 585.43,268.01 582.17,268.6 578.9,269.27 575.63,270.02 572.37,270.84 569.1,271.72 565.83,272.67 562.57,273.65 559.3,274.67 556.03,275.72 552.77,276.79 549.5,277.87 546.23,278.97 542.97,280.08 539.7,281.2" fill="#d4d4d4" fill-opacity="1"/>
<line x1="539.7" y1="275" x2="637.7" y2="254.2" stroke="#d2553f" stroke-width="1"/>
<circle cx="539.7" cy="277.1" r="1.15" fill="#111"/>
<circle cx="551.8" cy="275.8" r="1.15" fill="#111"/>
<circle cx="558.1" cy="263.6" r="1.15" fill="#111"/>
<circle cx="572.1" cy="262.8" r="1.15" fill="#111"/>
<circle cx="577" cy="272.5" r="1.15" fill="#111"/>
<circle cx="578.9" cy="265" r="1.15" fill="#111"/>
<circle cx="610.2" cy="257.7" r="1.15" fill="#111"/>
<circle cx="637.7" cy="255" r="1.15" fill="#111"/>
<text x="523.9" y="240.85" font-size="9.3" font-weight="normal" text-anchor="end" fill="#111" stroke="#111" stroke-width="0.3">10.0</text>
<text x="521.99" y="263.15" font-size="9.3" font-weight="normal" text-anchor="end" fill="#111" stroke="#111" stroke-width="0.3">7.5</text>
<text x="521.99" y="285.45" font-size="9.3" font-weight="normal" text-anchor="end" fill="#111" stroke="#111" stroke-width="0.3">5.0</text>
<text x="521.99" y="307.75" font-size="9.3" font-weight="normal" text-anchor="end" fill="#111" stroke="#111" stroke-width="0.3">2.5</text>
<text x="521.99" y="330.06" font-size="9.3" font-weight="normal" text-anchor="end" fill="#111" stroke="#111" stroke-width="0.3">0.0</text>
<text x="542.5" y="340.7" font-size="10" font-weight="normal" text-anchor="middle" fill="#111" stroke="#111" stroke-width="0.3">2000</text>
<text x="581.6" y="340.7" font-size="10" font-weight="normal" text-anchor="middle" fill="#111" stroke="#111" stroke-width="0.3">3000</text>
<text x="620.7" y="340.7" font-size="10" font-weight="normal" text-anchor="middle" fill="#111" stroke="#111" stroke-width="0.3">4000</text>
<text x="584.5" y="353.01" font-size="10.6" font-weight="normal" text-anchor="middle" fill="#111" stroke="#111" stroke-width="0.3">Nighttime activity (counts)</text>
<text x="0" y="0" font-size="11.6" font-weight="normal" text-anchor="start" fill="#cf5f4f" transform="translate(556.2 298.2) scale(1 1.12)" stroke="#cf5f4f" stroke-width="0.3">Slope = 0.0009</text>
<text x="0" y="0" font-size="11.6" font-weight="normal" text-anchor="start" fill="#cf5f4f" transform="translate(575.6 309) scale(1 1.12)" stroke="#cf5f4f" stroke-width="0.3">p = 0.001</text>
<text x="174.9" y="225.1" font-size="12" font-weight="bold" text-anchor="start" fill="#111">F</text>
<line x1="252.63" y1="394.2" x2="252.63" y2="492.6" stroke="#f0f0f0" stroke-width="0.6"/>
<line x1="289.5" y1="394.2" x2="289.5" y2="492.6" stroke="#f0f0f0" stroke-width="0.6"/>
<line x1="326.37" y1="394.2" x2="326.37" y2="492.6" stroke="#f0f0f0" stroke-width="0.6"/>
<line x1="228.2" y1="477.75" x2="355.3" y2="477.75" stroke="#f0f0f0" stroke-width="0.6"/>
<line x1="228.2" y1="457.25" x2="355.3" y2="457.25" stroke="#f0f0f0" stroke-width="0.6"/>
<line x1="228.2" y1="436.75" x2="355.3" y2="436.75" stroke="#f0f0f0" stroke-width="0.6"/>
<line x1="228.2" y1="416.25" x2="355.3" y2="416.25" stroke="#f0f0f0" stroke-width="0.6"/>
<line x1="234.2" y1="394.2" x2="234.2" y2="492.6" stroke="#ebebeb" stroke-width="0.9"/>
<line x1="271.07" y1="394.2" x2="271.07" y2="492.6" stroke="#ebebeb" stroke-width="0.9"/>
<line x1="307.93" y1="394.2" x2="307.93" y2="492.6" stroke="#ebebeb" stroke-width="0.9"/>
<line x1="344.8" y1="394.2" x2="344.8" y2="492.6" stroke="#ebebeb" stroke-width="0.9"/>
<line x1="228.2" y1="488" x2="355.3" y2="488" stroke="#ebebeb" stroke-width="0.9"/>
<line x1="228.2" y1="467.5" x2="355.3" y2="467.5" stroke="#ebebeb" stroke-width="0.9"/>
<line x1="228.2" y1="447" x2="355.3" y2="447" stroke="#ebebeb" stroke-width="0.9"/>
<line x1="228.2" y1="426.5" x2="355.3" y2="426.5" stroke="#ebebeb" stroke-width="0.9"/>
<line x1="228.2" y1="406" x2="355.3" y2="406" stroke="#ebebeb" stroke-width="0.9"/>
<polygon points="246,399.7 248.71,400.3 251.42,400.88 254.13,401.46 256.84,402.02 259.55,402.57 262.26,403.1 264.97,403.61 267.68,404.09 270.39,404.53 273.1,404.93 275.81,405.28 278.52,405.57 281.23,405.78 283.94,405.9 286.65,405.92 289.36,405.83 292.07,405.64 294.78,405.34 297.49,404.95 300.2,404.48 302.91,403.94 305.62,403.33 308.33,402.69 311.04,402 313.75,401.28 316.46,400.54 319.17,399.78 321.88,399 324.59,398.21 327.3,397.4 327.3,422.4 324.59,421.82 321.88,421.25 319.17,420.69 316.46,420.15 313.75,419.63 311.04,419.14 308.33,418.68 305.62,418.25 302.91,417.87 300.2,417.55 297.49,417.3 294.78,417.14 292.07,417.06 289.36,417.09 286.65,417.23 283.94,417.47 281.23,417.82 278.52,418.25 275.81,418.76 273.1,419.34 270.39,419.96 267.68,420.63 264.97,421.33 262.26,422.06 259.55,422.81 256.84,423.58 254.13,424.37 251.42,425.17 248.71,425.98 246,426.8" fill="#d4d4d4" fill-opacity="1"/>
<line x1="246" y1="413.2" x2="327.3" y2="409.9" stroke="#1f1fff" stroke-width="1.3"/>
<circle cx="246" cy="416.9" r="1.15" fill="#111"/>
<circle cx="278.2" cy="405.4" r="1.15" fill="#111"/>
<circle cx="278.8" cy="418.2" r="1.15" fill="#111"/>
<circle cx="286.1" cy="418.2" r="1.15" fill="#111"/>
<circle cx="290.7" cy="409.4" r="1.15" fill="#111"/>
<circle cx="297.6" cy="403" r="1.15" fill="#111"/>
<circle cx="300.9" cy="403.6" r="1.15" fill="#111"/>
<circle cx="327.3" cy="418.8" r="1.15" fill="#111"/>
<text x="226.7" y="409.53" font-size="9.8" font-weight="normal" text-anchor="end" fill="#111" stroke="#111" stroke-width="0.3">20</text>
<text x="226.7" y="429.93" font-size="9.8" font-weight="normal" text-anchor="end" fill="#111" stroke="#111" stroke-width="0.3">15</text>
<text x="226.7" y="450.23" font-size="9.8" font-weight="normal" text-anchor="end" fill="#111" stroke="#111" stroke-width="0.3">10</text>
<text x="224.68" y="470.93" font-size="9.8" font-weight="normal" text-anchor="end" fill="#111" stroke="#111" stroke-width="0.3">5</text>
<text x="224.68" y="490.43" font-size="9.8" font-weight="normal" text-anchor="end" fill="#111" stroke="#111" stroke-width="0.3">0</text>
<text x="234.4" y="503.61" font-size="10.3" font-weight="normal" text-anchor="middle" fill="#111" stroke="#111" stroke-width="0.3">0</text>
<text x="271.2" y="503.61" font-size="10.3" font-weight="normal" text-anchor="middle" fill="#111" stroke="#111" stroke-width="0.3">4</text>
<text x="308.5" y="503.61" font-size="10.3" font-weight="normal" text-anchor="middle" fill="#111" stroke="#111" stroke-width="0.3">8</text>
<text x="346.5" y="503.61" font-size="10.3" font-weight="normal" text-anchor="middle" fill="#111" stroke="#111" stroke-width="0.3">12</text>
<text x="287.6" y="518.11" font-size="10.6" font-weight="normal" text-anchor="middle" fill="#111" stroke="#111" stroke-width="0.3">Amplitude</text>
<text x="211.73" y="438" font-size="11.8" font-weight="normal" text-anchor="middle" fill="#111" transform="rotate(-90 211.73 438)" stroke="#111" stroke-width="0.3">BDNF</text>
<text x="0" y="0" font-size="11.6" font-weight="normal" text-anchor="start" fill="#2424ff" transform="translate(257.4 457.6) scale(1 1.12)" stroke="#2424ff" stroke-width="0.3">Slope = 0.09</text>
<text x="0" y="0" font-size="11.6" font-weight="normal" text-anchor="start" fill="#2424ff" transform="translate(279.6 470.4) scale(1 1.12)" stroke="#2424ff" stroke-width="0.3">p = 0.77</text>
<line x1="400.8" y1="394.2" x2="400.8" y2="492.6" stroke="#f0f0f0" stroke-width="0.6"/>
<line x1="445.2" y1="394.2" x2="445.2" y2="492.6" stroke="#f0f0f0" stroke-width="0.6"/>
<line x1="489.6" y1="394.2" x2="489.6" y2="492.6" stroke="#f0f0f0" stroke-width="0.6"/>
<line x1="374.2" y1="477.75" x2="499.7" y2="477.75" stroke="#f0f0f0" stroke-width="0.6"/>
<line x1="374.2" y1="457.25" x2="499.7" y2="457.25" stroke="#f0f0f0" stroke-width="0.6"/>
<line x1="374.2" y1="436.75" x2="499.7" y2="436.75" stroke="#f0f0f0" stroke-width="0.6"/>
<line x1="374.2" y1="416.25" x2="499.7" y2="416.25" stroke="#f0f0f0" stroke-width="0.6"/>
<line x1="378.6" y1="394.2" x2="378.6" y2="492.6" stroke="#ebebeb" stroke-width="0.9"/>
<line x1="423" y1="394.2" x2="423" y2="492.6" stroke="#ebebeb" stroke-width="0.9"/>
<line x1="467.4" y1="394.2" x2="467.4" y2="492.6" stroke="#ebebeb" stroke-width="0.9"/>
<line x1="374.2" y1="488" x2="499.7" y2="488" stroke="#ebebeb" stroke-width="0.9"/>
<line x1="374.2" y1="467.5" x2="499.7" y2="467.5" stroke="#ebebeb" stroke-width="0.9"/>
<line x1="374.2" y1="447" x2="499.7" y2="447" stroke="#ebebeb" stroke-width="0.9"/>
<line x1="374.2" y1="426.5" x2="499.7" y2="426.5" stroke="#ebebeb" stroke-width="0.9"/>
<line x1="374.2" y1="406" x2="499.7" y2="406" stroke="#ebebeb" stroke-width="0.9"/>
<polygon points="395.7,402.6 398.86,403.19 402.03,403.76 405.19,404.32 408.35,404.86 411.52,405.37 414.68,405.86 417.84,406.31 421.01,406.72 424.17,407.06 427.33,407.34 430.5,407.53 433.66,407.62 436.82,407.6 439.99,407.47 443.15,407.24 446.31,406.92 449.48,406.53 452.64,406.07 455.8,405.57 458.97,405.03 462.13,404.45 465.29,403.85 468.46,403.24 471.62,402.6 474.78,401.96 477.95,401.3 481.11,400.64 484.27,399.96 487.44,399.28 490.6,398.6 490.6,424.4 487.44,423.78 484.27,423.16 481.11,422.55 477.95,421.95 474.78,421.36 471.62,420.78 468.46,420.21 465.29,419.65 462.13,419.12 458.97,418.61 455.8,418.13 452.64,417.69 449.48,417.29 446.31,416.96 443.15,416.71 439.99,416.54 436.82,416.48 433.66,416.52 430.5,416.68 427.33,416.93 424.17,417.27 421.01,417.68 417.84,418.14 414.68,418.66 411.52,419.21 408.35,419.79 405.19,420.39 402.03,421.01 398.86,421.65 395.7,422.3" fill="#d4d4d4" fill-opacity="1"/>
<line x1="395.7" y1="412.6" x2="490.6" y2="410.7" stroke="#1f1fff" stroke-width="1.3"/>
<circle cx="395.7" cy="418.4" r="1.15" fill="#111"/>
<circle cx="404.1" cy="405.7" r="1.15" fill="#111"/>
<circle cx="414.6" cy="418.4" r="1.15" fill="#111"/>
<circle cx="420.9" cy="403.9" r="1.15" fill="#111"/>
<circle cx="432.5" cy="417" r="1.15" fill="#111"/>
<circle cx="439.3" cy="409.2" r="1.15" fill="#111"/>
<circle cx="485.8" cy="403.4" r="1.15" fill="#111"/>
<circle cx="490.6" cy="418.9" r="1.15" fill="#111"/>
<text x="371.5" y="409.53" font-size="9.8" font-weight="normal" text-anchor="end" fill="#111" stroke="#111" stroke-width="0.3">20</text>
<text x="371.5" y="429.93" font-size="9.8" font-weight="normal" text-anchor="end" fill="#111" stroke="#111" stroke-width="0.3">15</text>
<text x="371.5" y="450.23" font-size="9.8" font-weight="normal" text-anchor="end" fill="#111" stroke="#111" stroke-width="0.3">10</text>
<text x="369.48" y="470.93" font-size="9.8" font-weight="normal" text-anchor="end" fill="#111" stroke="#111" stroke-width="0.3">5</text>
<text x="369.48" y="490.43" font-size="9.8" font-weight="normal" text-anchor="end" fill="#111" stroke="#111" stroke-width="0.3">0</text>
<text x="381" y="503.71" font-size="10.3" font-weight="normal" text-anchor="middle" fill="#111" stroke="#111" stroke-width="0.3">2000</text>
<text x="425.5" y="503.71" font-size="10.3" font-weight="normal" text-anchor="middle" fill="#111" stroke="#111" stroke-width="0.3">3000</text>
<text x="470" y="503.71" font-size="10.3" font-weight="normal" text-anchor="middle" fill="#111" stroke="#111" stroke-width="0.3">4000</text>
<text x="431.4" y="519.81" font-size="10.6" font-weight="normal" text-anchor="middle" fill="#111" stroke="#111" stroke-width="0.3">Daily activity (counts)</text>
<text x="0" y="0" font-size="11.6" font-weight="normal" text-anchor="start" fill="#2424ff" transform="translate(397.3 458.6) scale(1 1.12)" stroke="#2424ff" stroke-width="0.3">Slope = 0.0002</text>
<text x="0" y="0" font-size="11.6" font-weight="normal" text-anchor="start" fill="#2424ff" transform="translate(416.2 469.6) scale(1 1.12)" stroke="#2424ff" stroke-width="0.3">p = 0.85</text>
<line x1="556.45" y1="394.2" x2="556.45" y2="492.6" stroke="#f0f0f0" stroke-width="0.6"/>
<line x1="599.15" y1="394.2" x2="599.15" y2="492.6" stroke="#f0f0f0" stroke-width="0.6"/>
<line x1="641.85" y1="394.2" x2="641.85" y2="492.6" stroke="#f0f0f0" stroke-width="0.6"/>
<line x1="523" y1="477.75" x2="649" y2="477.75" stroke="#f0f0f0" stroke-width="0.6"/>
<line x1="523" y1="457.25" x2="649" y2="457.25" stroke="#f0f0f0" stroke-width="0.6"/>
<line x1="523" y1="436.75" x2="649" y2="436.75" stroke="#f0f0f0" stroke-width="0.6"/>
<line x1="523" y1="416.25" x2="649" y2="416.25" stroke="#f0f0f0" stroke-width="0.6"/>
<line x1="535.1" y1="394.2" x2="535.1" y2="492.6" stroke="#ebebeb" stroke-width="0.9"/>
<line x1="577.8" y1="394.2" x2="577.8" y2="492.6" stroke="#ebebeb" stroke-width="0.9"/>
<line x1="620.5" y1="394.2" x2="620.5" y2="492.6" stroke="#ebebeb" stroke-width="0.9"/>
<line x1="523" y1="488" x2="649" y2="488" stroke="#ebebeb" stroke-width="0.9"/>
<line x1="523" y1="467.5" x2="649" y2="467.5" stroke="#ebebeb" stroke-width="0.9"/>
<line x1="523" y1="447" x2="649" y2="447" stroke="#ebebeb" stroke-width="0.9"/>
<line x1="523" y1="426.5" x2="649" y2="426.5" stroke="#ebebeb" stroke-width="0.9"/>
<line x1="523" y1="406" x2="649" y2="406" stroke="#ebebeb" stroke-width="0.9"/>
<polygon points="534.6,402 538.06,402.63 541.51,403.25 544.97,403.85 548.43,404.43 551.88,404.98 555.34,405.5 558.8,405.97 562.25,406.39 565.71,406.74 569.17,406.99 572.62,407.14 576.08,407.18 579.54,407.09 582.99,406.88 586.45,406.56 589.91,406.14 593.36,405.66 596.82,405.11 600.28,404.51 603.73,403.88 607.19,403.21 610.65,402.53 614.1,401.82 617.56,401.11 621.02,400.37 624.47,399.63 627.93,398.88 631.39,398.13 634.84,397.37 638.3,396.6 638.3,425.5 634.84,424.82 631.39,424.15 627.93,423.49 624.47,422.83 621.02,422.18 617.56,421.53 614.1,420.91 610.65,420.29 607.19,419.7 603.73,419.12 600.28,418.58 596.82,418.07 593.36,417.61 589.91,417.22 586.45,416.89 582.99,416.66 579.54,416.54 576.08,416.54 572.62,416.67 569.17,416.91 565.71,417.25 562.25,417.69 558.8,418.2 555.34,418.76 551.88,419.37 548.43,420.01 544.97,420.68 541.51,421.37 538.06,422.08 534.6,422.8" fill="#d4d4d4" fill-opacity="1"/>
<line x1="534.6" y1="412.3" x2="638.3" y2="410.4" stroke="#1f1fff" stroke-width="1.3"/>
<circle cx="534.6" cy="416.9" r="1.15" fill="#111"/>
<circle cx="547.8" cy="417.7" r="1.15" fill="#111"/>
<circle cx="554.6" cy="405.5" r="1.15" fill="#111"/>
<circle cx="569.4" cy="417.7" r="1.15" fill="#111"/>
<circle cx="574.8" cy="403.4" r="1.15" fill="#111"/>
<circle cx="576.4" cy="409.6" r="1.15" fill="#111"/>
<circle cx="609.4" cy="403.4" r="1.15" fill="#111"/>
<circle cx="638.3" cy="418.7" r="1.15" fill="#111"/>
<text x="520.4" y="409.53" font-size="9.8" font-weight="normal" text-anchor="end" fill="#111" stroke="#111" stroke-width="0.3">20</text>
<text x="520.4" y="429.93" font-size="9.8" font-weight="normal" text-anchor="end" fill="#111" stroke="#111" stroke-width="0.3">15</text>
<text x="520.4" y="450.23" font-size="9.8" font-weight="normal" text-anchor="end" fill="#111" stroke="#111" stroke-width="0.3">10</text>
<text x="518.38" y="470.93" font-size="9.8" font-weight="normal" text-anchor="end" fill="#111" stroke="#111" stroke-width="0.3">5</text>
<text x="518.38" y="490.43" font-size="9.8" font-weight="normal" text-anchor="end" fill="#111" stroke="#111" stroke-width="0.3">0</text>
<text x="538.4" y="503.41" font-size="10.3" font-weight="normal" text-anchor="middle" fill="#111" stroke="#111" stroke-width="0.3">2000</text>
<text x="580.4" y="503.41" font-size="10.3" font-weight="normal" text-anchor="middle" fill="#111" stroke="#111" stroke-width="0.3">3000</text>
<text x="621.4" y="503.41" font-size="10.3" font-weight="normal" text-anchor="middle" fill="#111" stroke="#111" stroke-width="0.3">4000</text>
<text x="586.4" y="519.11" font-size="10.6" font-weight="normal" text-anchor="middle" fill="#111" stroke="#111" stroke-width="0.3">Nighttime activity (counts)</text>
<text x="0" y="0" font-size="11.6" font-weight="normal" text-anchor="start" fill="#2424ff" transform="translate(544.6 458.2) scale(1 1.12)" stroke="#2424ff" stroke-width="0.3">Slope = 0.0002</text>
<text x="0" y="0" font-size="11.6" font-weight="normal" text-anchor="start" fill="#2424ff" transform="translate(564 469.5) scale(1 1.12)" stroke="#2424ff" stroke-width="0.3">p = 0.84</text>
<text x="175.2" y="380.1" font-size="12" font-weight="bold" text-anchor="start" fill="#111">G</text>
<line x1="64.22" y1="537.2" x2="64.22" y2="671.4" stroke="#f0f0f0" stroke-width="0.6"/>
<line x1="97.88" y1="537.2" x2="97.88" y2="671.4" stroke="#f0f0f0" stroke-width="0.6"/>
<line x1="131.53" y1="537.2" x2="131.53" y2="671.4" stroke="#f0f0f0" stroke-width="0.6"/>
<line x1="165.17" y1="537.2" x2="165.17" y2="671.4" stroke="#f0f0f0" stroke-width="0.6"/>
<line x1="44" y1="650.31" x2="188.5" y2="650.31" stroke="#f0f0f0" stroke-width="0.6"/>
<line x1="44" y1="619.74" x2="188.5" y2="619.74" stroke="#f0f0f0" stroke-width="0.6"/>
<line x1="44" y1="589.16" x2="188.5" y2="589.16" stroke="#f0f0f0" stroke-width="0.6"/>
<line x1="44" y1="558.59" x2="188.5" y2="558.59" stroke="#f0f0f0" stroke-width="0.6"/>
<line x1="47.4" y1="537.2" x2="47.4" y2="671.4" stroke="#ebebeb" stroke-width="0.9"/>
<line x1="81.05" y1="537.2" x2="81.05" y2="671.4" stroke="#ebebeb" stroke-width="0.9"/>
<line x1="114.7" y1="537.2" x2="114.7" y2="671.4" stroke="#ebebeb" stroke-width="0.9"/>
<line x1="148.35" y1="537.2" x2="148.35" y2="671.4" stroke="#ebebeb" stroke-width="0.9"/>
<line x1="182" y1="537.2" x2="182" y2="671.4" stroke="#ebebeb" stroke-width="0.9"/>
<line x1="44" y1="665.6" x2="188.5" y2="665.6" stroke="#ebebeb" stroke-width="0.9"/>
<line x1="44" y1="635.02" x2="188.5" y2="635.02" stroke="#ebebeb" stroke-width="0.9"/>
<line x1="44" y1="604.45" x2="188.5" y2="604.45" stroke="#ebebeb" stroke-width="0.9"/>
<line x1="44" y1="573.88" x2="188.5" y2="573.88" stroke="#ebebeb" stroke-width="0.9"/>
<line x1="44" y1="543.3" x2="188.5" y2="543.3" stroke="#ebebeb" stroke-width="0.9"/>
<polygon points="57.8,582.2 61.11,582.22 64.42,582.22 67.73,582.21 71.04,582.17 74.35,582.12 77.66,582.03 80.97,581.9 84.28,581.72 87.59,581.48 90.9,581.16 94.21,580.76 97.52,580.24 100.83,579.6 104.14,578.85 107.45,577.98 110.76,577.01 114.07,575.96 117.38,574.83 120.69,573.64 124,572.41 127.31,571.14 130.62,569.84 133.93,568.52 137.24,567.18 140.55,565.83 143.86,564.46 147.17,563.08 150.48,561.69 153.79,560.3 157.1,558.9 157.1,587.5 153.79,587.45 150.48,587.4 147.17,587.36 143.86,587.33 140.55,587.31 137.24,587.3 133.93,587.31 130.62,587.33 127.31,587.38 124,587.46 120.69,587.57 117.38,587.73 114.07,587.95 110.76,588.24 107.45,588.62 104.14,589.09 100.83,589.69 97.52,590.4 94.21,591.23 90.9,592.17 87.59,593.2 84.28,594.31 80.97,595.47 77.66,596.69 74.35,597.95 71.04,599.24 67.73,600.55 64.42,601.89 61.11,603.24 57.8,604.6" fill="#d4d4d4" fill-opacity="1"/>
<line x1="57.8" y1="593.5" x2="157.1" y2="573.1" stroke="#d2553f" stroke-width="1"/>
<circle cx="57.8" cy="598.1" r="1.2" fill="#111"/>
<circle cx="66.7" cy="581.2" r="1.2" fill="#111"/>
<circle cx="77.8" cy="579.9" r="1.2" fill="#111"/>
<circle cx="84.5" cy="594" r="1.2" fill="#111"/>
<circle cx="96.7" cy="598.8" r="1.2" fill="#111"/>
<circle cx="103.8" cy="582.5" r="1.2" fill="#111"/>
<circle cx="151.9" cy="573.1" r="1.2" fill="#111"/>
<circle cx="157.1" cy="569.4" r="1.2" fill="#111"/>
<text x="44.1" y="548.53" font-size="9.8" font-weight="bold" text-anchor="end" fill="#111" stroke="#111" stroke-width="0.3">10.0</text>
<text x="42.08" y="579.23" font-size="9.8" font-weight="bold" text-anchor="end" fill="#111" stroke="#111" stroke-width="0.3">7.5</text>
<text x="42.08" y="610.13" font-size="9.8" font-weight="bold" text-anchor="end" fill="#111" stroke="#111" stroke-width="0.3">5.0</text>
<text x="42.08" y="640.73" font-size="9.8" font-weight="bold" text-anchor="end" fill="#111" stroke="#111" stroke-width="0.3">2.5</text>
<text x="42.08" y="670.43" font-size="9.8" font-weight="bold" text-anchor="end" fill="#111" stroke="#111" stroke-width="0.3">0.0</text>
<text x="49.2" y="682.43" font-size="9.8" font-weight="bold" text-anchor="middle" fill="#111" stroke="#111" stroke-width="0.3">1.5</text>
<text x="82.5" y="682.43" font-size="9.8" font-weight="bold" text-anchor="middle" fill="#111" stroke="#111" stroke-width="0.3">2.0</text>
<text x="114.4" y="682.43" font-size="9.8" font-weight="bold" text-anchor="middle" fill="#111" stroke="#111" stroke-width="0.3">2.5</text>
<text x="149.6" y="682.43" font-size="9.8" font-weight="bold" text-anchor="middle" fill="#111" stroke="#111" stroke-width="0.3">3.0</text>
<text x="183.3" y="682.43" font-size="9.8" font-weight="bold" text-anchor="middle" fill="#111" stroke="#111" stroke-width="0.3">3.5</text>
<text x="100.5" y="695.87" font-size="12.2" font-weight="normal" text-anchor="middle" fill="#111" stroke="#111" stroke-width="0.3">Mesor</text>
<text x="17.94" y="598" font-size="12.4" font-weight="normal" text-anchor="middle" fill="#111" transform="rotate(-90 17.94 598)" stroke="#111" stroke-width="0.3">5–HT</text>
<text x="0" y="0" font-size="12.05" font-weight="normal" text-anchor="end" fill="#cf5f4f" transform="translate(156.9 616.7) scale(1 1.12)" stroke="#cf5f4f" stroke-width="0.3">Slope = 1.13</text>
<text x="0" y="0" font-size="12.05" font-weight="normal" text-anchor="end" fill="#cf5f4f" transform="translate(156.9 628.5) scale(1 1.12)" stroke="#cf5f4f" stroke-width="0.3">p = 0.06</text>
<line x1="237.62" y1="537.2" x2="237.62" y2="670.7" stroke="#f0f0f0" stroke-width="0.6"/>
<line x1="282.28" y1="537.2" x2="282.28" y2="670.7" stroke="#f0f0f0" stroke-width="0.6"/>
<line x1="326.93" y1="537.2" x2="326.93" y2="670.7" stroke="#f0f0f0" stroke-width="0.6"/>
<line x1="213" y1="650.31" x2="335.8" y2="650.31" stroke="#f0f0f0" stroke-width="0.6"/>
<line x1="213" y1="619.74" x2="335.8" y2="619.74" stroke="#f0f0f0" stroke-width="0.6"/>
<line x1="213" y1="589.16" x2="335.8" y2="589.16" stroke="#f0f0f0" stroke-width="0.6"/>
<line x1="213" y1="558.59" x2="335.8" y2="558.59" stroke="#f0f0f0" stroke-width="0.6"/>
<line x1="215.3" y1="537.2" x2="215.3" y2="670.7" stroke="#ebebeb" stroke-width="0.9"/>
<line x1="259.95" y1="537.2" x2="259.95" y2="670.7" stroke="#ebebeb" stroke-width="0.9"/>
<line x1="304.6" y1="537.2" x2="304.6" y2="670.7" stroke="#ebebeb" stroke-width="0.9"/>
<line x1="213" y1="665.6" x2="335.8" y2="665.6" stroke="#ebebeb" stroke-width="0.9"/>
<line x1="213" y1="635.02" x2="335.8" y2="635.02" stroke="#ebebeb" stroke-width="0.9"/>
<line x1="213" y1="604.45" x2="335.8" y2="604.45" stroke="#ebebeb" stroke-width="0.9"/>
<line x1="213" y1="573.88" x2="335.8" y2="573.88" stroke="#ebebeb" stroke-width="0.9"/>
<line x1="213" y1="543.3" x2="335.8" y2="543.3" stroke="#ebebeb" stroke-width="0.9"/>
<polygon points="224.9,572.8 227.84,573.52 230.77,574.23 233.71,574.9 236.65,575.54 239.58,576.14 242.52,576.67 245.46,577.14 248.39,577.51 251.33,577.75 254.27,577.85 257.2,577.77 260.14,577.51 263.08,577.05 266.01,576.42 268.95,575.64 271.89,574.74 274.82,573.75 277.76,572.68 280.7,571.56 283.63,570.39 286.57,569.19 289.51,567.96 292.44,566.71 295.38,565.44 298.32,564.16 301.25,562.86 304.19,561.56 307.13,560.25 310.06,558.93 313,557.6 313,600.9 310.06,600.1 307.13,599.31 304.19,598.52 301.25,597.74 298.32,596.98 295.38,596.22 292.44,595.48 289.51,594.75 286.57,594.05 283.63,593.37 280.7,592.73 277.76,592.14 274.82,591.6 271.89,591.13 268.95,590.76 266.01,590.51 263.08,590.4 260.14,590.47 257.2,590.73 254.27,591.18 251.33,591.81 248.39,592.58 245.46,593.48 242.52,594.47 239.58,595.53 236.65,596.65 233.71,597.82 230.77,599.02 227.84,600.25 224.9,601.5" fill="#d4d4d4" fill-opacity="1"/>
<line x1="224.9" y1="587.3" x2="313" y2="579.1" stroke="#d2553f" stroke-width="1"/>
<circle cx="224.9" cy="597.8" r="1.2" fill="#111"/>
<circle cx="228.9" cy="582.5" r="1.2" fill="#111"/>
<circle cx="237.8" cy="581.2" r="1.2" fill="#111"/>
<circle cx="247" cy="572.8" r="1.2" fill="#111"/>
<circle cx="249.9" cy="579.4" r="1.2" fill="#111"/>
<circle cx="257" cy="598.8" r="1.2" fill="#111"/>
<circle cx="295.6" cy="593.6" r="1.2" fill="#111"/>
<circle cx="313" cy="569.4" r="1.2" fill="#111"/>
<text x="214.1" y="548.43" font-size="9.8" font-weight="bold" text-anchor="end" fill="#111" stroke="#111" stroke-width="0.3">10.0</text>
<text x="212.08" y="579.63" font-size="9.8" font-weight="bold" text-anchor="end" fill="#111" stroke="#111" stroke-width="0.3">7.5</text>
<text x="212.08" y="609.83" font-size="9.8" font-weight="bold" text-anchor="end" fill="#111" stroke="#111" stroke-width="0.3">5.0</text>
<text x="212.08" y="640.93" font-size="9.8" font-weight="bold" text-anchor="end" fill="#111" stroke="#111" stroke-width="0.3">2.5</text>
<text x="212.08" y="668.43" font-size="9.8" font-weight="bold" text-anchor="end" fill="#111" stroke="#111" stroke-width="0.3">0.0</text>
<text x="218" y="681.73" font-size="9.8" font-weight="bold" text-anchor="middle" fill="#111" stroke="#111" stroke-width="0.3">400</text>
<text x="263" y="681.73" font-size="9.8" font-weight="bold" text-anchor="middle" fill="#111" stroke="#111" stroke-width="0.3">800</text>
<text x="308.7" y="681.73" font-size="9.8" font-weight="bold" text-anchor="middle" fill="#111" stroke="#111" stroke-width="0.3">1200</text>
<text x="274.6" y="695.87" font-size="12.2" font-weight="normal" text-anchor="middle" fill="#111" stroke="#111" stroke-width="0.3">Pseudo−F</text>
<text x="0" y="0" font-size="12.05" font-weight="normal" text-anchor="start" fill="#cf5f4f" transform="translate(229.9 616.7) scale(1 1.12)" stroke="#cf5f4f" stroke-width="0.3">Slope = 0.0009</text>
<text x="0" y="0" font-size="12.05" font-weight="normal" text-anchor="start" fill="#cf5f4f" transform="translate(257 629.8) scale(1 1.12)" stroke="#cf5f4f" stroke-width="0.3">p = 0.52</text>
<text x="1" y="537.9" font-size="12.5" font-weight="bold" text-anchor="start" fill="#111">H</text>
<line x1="388.61" y1="551.1" x2="388.61" y2="671" stroke="#f0f0f0" stroke-width="0.6"/>
<line x1="424.44" y1="551.1" x2="424.44" y2="671" stroke="#f0f0f0" stroke-width="0.6"/>
<line x1="460.26" y1="551.1" x2="460.26" y2="671" stroke="#f0f0f0" stroke-width="0.6"/>
<line x1="496.09" y1="551.1" x2="496.09" y2="671" stroke="#f0f0f0" stroke-width="0.6"/>
<line x1="365.5" y1="653" x2="520.9" y2="653" stroke="#f0f0f0" stroke-width="0.6"/>
<line x1="365.5" y1="628" x2="520.9" y2="628" stroke="#f0f0f0" stroke-width="0.6"/>
<line x1="365.5" y1="603" x2="520.9" y2="603" stroke="#f0f0f0" stroke-width="0.6"/>
<line x1="365.5" y1="578" x2="520.9" y2="578" stroke="#f0f0f0" stroke-width="0.6"/>
<line x1="370.7" y1="551.1" x2="370.7" y2="671" stroke="#ebebeb" stroke-width="0.9"/>
<line x1="406.52" y1="551.1" x2="406.52" y2="671" stroke="#ebebeb" stroke-width="0.9"/>
<line x1="442.35" y1="551.1" x2="442.35" y2="671" stroke="#ebebeb" stroke-width="0.9"/>
<line x1="478.18" y1="551.1" x2="478.18" y2="671" stroke="#ebebeb" stroke-width="0.9"/>
<line x1="514" y1="551.1" x2="514" y2="671" stroke="#ebebeb" stroke-width="0.9"/>
<line x1="365.5" y1="665.5" x2="520.9" y2="665.5" stroke="#ebebeb" stroke-width="0.9"/>
<line x1="365.5" y1="640.5" x2="520.9" y2="640.5" stroke="#ebebeb" stroke-width="0.9"/>
<line x1="365.5" y1="615.5" x2="520.9" y2="615.5" stroke="#ebebeb" stroke-width="0.9"/>
<line x1="365.5" y1="590.5" x2="520.9" y2="590.5" stroke="#ebebeb" stroke-width="0.9"/>
<line x1="365.5" y1="565.5" x2="520.9" y2="565.5" stroke="#ebebeb" stroke-width="0.9"/>
<polygon points="381.8,561.3 385.33,561.97 388.85,562.62 392.38,563.25 395.91,563.87 399.43,564.45 402.96,565.01 406.49,565.53 410.01,565.99 413.54,566.4 417.07,566.72 420.59,566.95 424.12,567.07 427.65,567.07 431.17,566.94 434.7,566.7 438.23,566.35 441.75,565.92 445.28,565.4 448.81,564.83 452.33,564.21 455.86,563.56 459.39,562.87 462.91,562.16 466.44,561.43 469.97,560.69 473.49,559.93 477.02,559.16 480.55,558.38 484.07,557.59 487.6,556.8 487.6,586.2 484.07,585.5 480.55,584.8 477.02,584.11 473.49,583.43 469.97,582.76 466.44,582.11 462.91,581.47 459.39,580.85 455.86,580.25 452.33,579.69 448.81,579.16 445.28,578.68 441.75,578.25 438.23,577.91 434.7,577.65 431.17,577.5 427.65,577.46 424.12,577.55 420.59,577.76 417.07,578.08 413.54,578.49 410.01,578.99 406.49,579.54 402.96,580.15 399.43,580.8 395.91,581.47 392.38,582.18 388.85,582.9 385.33,583.64 381.8,584.4" fill="#d4d4d4" fill-opacity="1"/>
<line x1="381.8" y1="573.3" x2="487.6" y2="571.2" stroke="#1f1fff" stroke-width="1.3"/>
<circle cx="381.8" cy="580.4" r="1" fill="#111"/>
<circle cx="391" cy="564.7" r="1" fill="#111"/>
<circle cx="402.8" cy="579.9" r="1" fill="#111"/>
<circle cx="410.1" cy="562.6" r="1" fill="#111"/>
<circle cx="422.7" cy="578.6" r="1" fill="#111"/>
<circle cx="430.4" cy="569.4" r="1" fill="#111"/>
<circle cx="482.4" cy="562" r="1" fill="#111"/>
<circle cx="487.6" cy="581" r="1" fill="#111"/>
<text x="363.8" y="570.64" font-size="8.7" font-weight="bold" text-anchor="end" fill="#111" stroke="#111" stroke-width="0.3">20</text>
<text x="363.8" y="594.84" font-size="8.7" font-weight="bold" text-anchor="end" fill="#111" stroke="#111" stroke-width="0.3">15</text>
<text x="363.8" y="619.54" font-size="8.7" font-weight="bold" text-anchor="end" fill="#111" stroke="#111" stroke-width="0.3">10</text>
<text x="362.01" y="644.04" font-size="8.7" font-weight="bold" text-anchor="end" fill="#111" stroke="#111" stroke-width="0.3">5</text>
<text x="362.01" y="668.54" font-size="8.7" font-weight="bold" text-anchor="end" fill="#111" stroke="#111" stroke-width="0.3">0</text>
<text x="372" y="678.54" font-size="8.7" font-weight="bold" text-anchor="middle" fill="#111" stroke="#111" stroke-width="0.3">1.5</text>
<text x="408.3" y="678.54" font-size="8.7" font-weight="bold" text-anchor="middle" fill="#111" stroke="#111" stroke-width="0.3">2.0</text>
<text x="442.5" y="678.54" font-size="8.7" font-weight="bold" text-anchor="middle" fill="#111" stroke="#111" stroke-width="0.3">2.5</text>
<text x="479.8" y="678.54" font-size="8.7" font-weight="bold" text-anchor="middle" fill="#111" stroke="#111" stroke-width="0.3">3.0</text>
<text x="515.7" y="678.54" font-size="8.7" font-weight="bold" text-anchor="middle" fill="#111" stroke="#111" stroke-width="0.3">3.5</text>
<text x="431.7" y="694.65" font-size="11" font-weight="normal" text-anchor="middle" fill="#111" stroke="#111" stroke-width="0.3">Mesor</text>
<text x="347.01" y="604" font-size="10.6" font-weight="normal" text-anchor="middle" fill="#111" transform="rotate(-90 347.01 604)" stroke="#111" stroke-width="0.3">BDNF</text>
<text x="0" y="0" font-size="10.6" font-weight="normal" text-anchor="end" fill="#2424ff" transform="translate(472.4 617.6) scale(1 1.12)" stroke="#2424ff" stroke-width="0.3">Slope = 0.25</text>
<text x="0" y="0" font-size="10.6" font-weight="normal" text-anchor="end" fill="#2424ff" transform="translate(472.4 628.7) scale(1 1.12)" stroke="#2424ff" stroke-width="0.3">p = 0.85</text>
<line x1="562.38" y1="551.1" x2="562.38" y2="671" stroke="#f0f0f0" stroke-width="0.6"/>
<line x1="609.93" y1="551.1" x2="609.93" y2="671" stroke="#f0f0f0" stroke-width="0.6"/>
<line x1="657.48" y1="551.1" x2="657.48" y2="671" stroke="#f0f0f0" stroke-width="0.6"/>
<line x1="536" y1="653" x2="660.5" y2="653" stroke="#f0f0f0" stroke-width="0.6"/>
<line x1="536" y1="628" x2="660.5" y2="628" stroke="#f0f0f0" stroke-width="0.6"/>
<line x1="536" y1="603" x2="660.5" y2="603" stroke="#f0f0f0" stroke-width="0.6"/>
<line x1="536" y1="578" x2="660.5" y2="578" stroke="#f0f0f0" stroke-width="0.6"/>
<line x1="538.6" y1="551.1" x2="538.6" y2="671" stroke="#ebebeb" stroke-width="0.9"/>
<line x1="586.15" y1="551.1" x2="586.15" y2="671" stroke="#ebebeb" stroke-width="0.9"/>
<line x1="633.7" y1="551.1" x2="633.7" y2="671" stroke="#ebebeb" stroke-width="0.9"/>
<line x1="536" y1="665.5" x2="660.5" y2="665.5" stroke="#ebebeb" stroke-width="0.9"/>
<line x1="536" y1="640.5" x2="660.5" y2="640.5" stroke="#ebebeb" stroke-width="0.9"/>
<line x1="536" y1="615.5" x2="660.5" y2="615.5" stroke="#ebebeb" stroke-width="0.9"/>
<line x1="536" y1="590.5" x2="660.5" y2="590.5" stroke="#ebebeb" stroke-width="0.9"/>
<line x1="536" y1="565.5" x2="660.5" y2="565.5" stroke="#ebebeb" stroke-width="0.9"/>
<polygon points="549.1,561.3 552.23,562.1 555.35,562.88 558.48,563.65 561.61,564.38 564.73,565.08 567.86,565.74 570.99,566.34 574.11,566.86 577.24,567.28 580.37,567.59 583.49,567.76 586.62,567.78 589.75,567.66 592.87,567.41 596,567.04 599.13,566.58 602.25,566.05 605.38,565.47 608.51,564.85 611.63,564.19 614.76,563.51 617.89,562.81 621.01,562.09 624.14,561.36 627.27,560.61 630.39,559.86 633.52,559.11 636.65,558.34 639.77,557.57 642.9,556.8 642.9,590.2 639.77,589.34 636.65,588.48 633.52,587.63 630.39,586.79 627.27,585.95 624.14,585.12 621.01,584.31 617.89,583.5 614.76,582.71 611.63,581.94 608.51,581.2 605.38,580.49 602.25,579.82 599.13,579.2 596,578.66 592.87,578.21 589.75,577.86 586.62,577.66 583.49,577.59 580.37,577.68 577.24,577.9 574.11,578.24 570.99,578.67 567.86,579.18 564.73,579.75 561.61,580.36 558.48,581.01 555.35,581.69 552.23,582.39 549.1,583.1" fill="#d4d4d4" fill-opacity="1"/>
<line x1="549.1" y1="571.8" x2="642.9" y2="573.3" stroke="#1f1fff" stroke-width="1.3"/>
<circle cx="549.1" cy="580.4" r="1" fill="#111"/>
<circle cx="553.1" cy="569.9" r="1" fill="#111"/>
<circle cx="562.3" cy="564.7" r="1" fill="#111"/>
<circle cx="572" cy="562" r="1" fill="#111"/>
<circle cx="575.2" cy="579.9" r="1" fill="#111"/>
<circle cx="583" cy="578.6" r="1" fill="#111"/>
<circle cx="624" cy="562.8" r="1" fill="#111"/>
<circle cx="642.9" cy="581" r="1" fill="#111"/>
<text x="534.4" y="570.34" font-size="8.7" font-weight="bold" text-anchor="end" fill="#111" stroke="#111" stroke-width="0.3">20</text>
<text x="534.4" y="594.54" font-size="8.7" font-weight="bold" text-anchor="end" fill="#111" stroke="#111" stroke-width="0.3">15</text>
<text x="534.4" y="619.44" font-size="8.7" font-weight="bold" text-anchor="end" fill="#111" stroke="#111" stroke-width="0.3">10</text>
<text x="532.61" y="644.44" font-size="8.7" font-weight="bold" text-anchor="end" fill="#111" stroke="#111" stroke-width="0.3">5</text>
<text x="532.61" y="665.75" font-size="8.7" font-weight="bold" text-anchor="end" fill="#111" stroke="#111" stroke-width="0.3">0</text>
<text x="540.5" y="678.54" font-size="8.7" font-weight="bold" text-anchor="middle" fill="#111" stroke="#111" stroke-width="0.3">400</text>
<text x="588.6" y="678.54" font-size="8.7" font-weight="bold" text-anchor="middle" fill="#111" stroke="#111" stroke-width="0.3">800</text>
<text x="637.7" y="678.54" font-size="8.7" font-weight="bold" text-anchor="middle" fill="#111" stroke="#111" stroke-width="0.3">1200</text>
<text x="604.3" y="694.15" font-size="11" font-weight="normal" text-anchor="middle" fill="#111" stroke="#111" stroke-width="0.3">Pseudo−F</text>
<text x="0" y="0" font-size="10.6" font-weight="normal" text-anchor="start" fill="#2424ff" transform="translate(558.1 614.6) scale(1 1.12)" stroke="#2424ff" stroke-width="0.3">Slope = −0.0004</text>
<text x="0" y="0" font-size="10.6" font-weight="normal" text-anchor="start" fill="#2424ff" transform="translate(579.9 627.2) scale(1 1.12)" stroke="#2424ff" stroke-width="0.3">p = 0.87</text>
<text x="345" y="537.9" font-size="12" font-weight="bold" text-anchor="start" fill="#111">I</text>
</svg>
</body></html>
